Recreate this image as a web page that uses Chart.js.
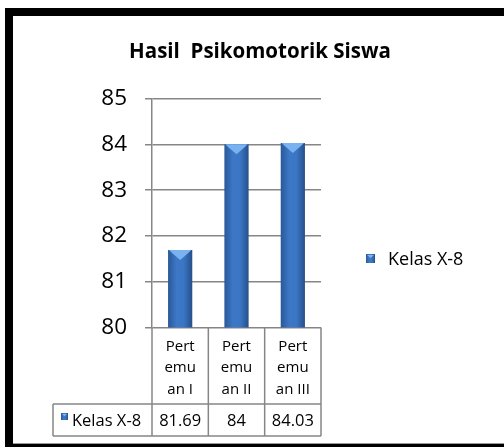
<!DOCTYPE html>
<html>
<head>
<meta charset="utf-8">
<script src="https://cdn.jsdelivr.net/npm/chart.js@4.4.0/dist/chart.umd.min.js"></script>
<style>
    html, body { margin: 0; padding: 0; background: #fff; overflow: hidden; }
    #wrap { position: absolute; left: 0; top: 0; width: 504px; height: 447px; }
</style>
</head>
<body>
<div id="wrap"><canvas id="psikomotorik-chart"></canvas></div>
<script>
const categories = [['Pert', 'emu', 'an I'], ['Pert', 'emu', 'an II'], ['Pert', 'emu', 'an III']];
const seriesName = 'Kelas X-8';
const values = [81.69, 84, 84.03];
const valueLabels = ['81.69', '84', '84.03'];
const yTicks = [80, 81, 82, 83, 84, 85];

const FONT = '"Open Sans"';
const LINE = '#868686';

function blueGradient(ctx, x0, x1) {
    const g = ctx.createLinearGradient(x0, 0, x1, 0);
    g.addColorStop(0, '#2a5898');
    g.addColorStop(0.35, '#3c78c6');
    g.addColorStop(0.65, '#3a76c4');
    g.addColorStop(1, '#264f8a');
    return g;
}

function barFill(context) {
    const chart = context.chart;
    const x = chart.scales.x;
    if (!x || context.dataIndex === undefined) return '#3a72bf';
    const half = x.width / categories.length * 0.43 / 2;
    const cx = x.getPixelForValue(context.dataIndex);
    if (!isFinite(cx) || !isFinite(half) || half <= 0) return '#3a72bf';
    return blueGradient(chart.ctx, cx - half, cx + half);
}

function drawSwatch(ctx, x, y, s) {
    ctx.fillStyle = blueGradient(ctx, x, x + s);
    ctx.fillRect(x, y, s, s);
    ctx.fillStyle = '#7fb4ec';
    ctx.beginPath();
    ctx.moveTo(x + 1, y + 1);
    ctx.lineTo(x + s - 1, y + 1);
    ctx.lineTo(x + s / 2, y + s * 0.45);
    ctx.closePath();
    ctx.fill();
}

// black frame round the chart (open on the right, thin at the bottom)
const framePlugin = {
    id: 'frame',
    beforeDraw(chart) {
        const ctx = chart.ctx;
        ctx.save();
        ctx.fillStyle = '#fff';
        ctx.fillRect(0, 0, chart.width, chart.height);
        ctx.fillStyle = '#000';
        ctx.fillRect(5, 8, 8, chart.height - 8);
        ctx.fillRect(5, 8, chart.width - 5, 8);
        ctx.fillRect(5, chart.height - 3, chart.width - 5, 3);
        ctx.fillStyle = '#9a9a9a';
        ctx.fillRect(13, chart.height - 4, chart.width - 13, 1);
        ctx.restore();
    }
};

// bar caps, data table under the axis and the legend on the right
const tablePlugin = {
    id: 'dataTable',
    afterDatasetsDraw(chart) {
        const ctx = chart.ctx;
        const meta = chart.getDatasetMeta(0);
        ctx.save();
        meta.data.forEach(function (bar) {
            const w = bar.width;
            ctx.fillStyle = '#79b2ee';
            ctx.beginPath();
            ctx.moveTo(bar.x - w / 2 + 1, bar.y);
            ctx.lineTo(bar.x + w / 2 - 1, bar.y);
            ctx.lineTo(bar.x + w / 2 - 4, bar.y + 3);
            ctx.lineTo(bar.x, bar.y + 10);
            ctx.lineTo(bar.x - w / 2 + 4, bar.y + 3);
            ctx.closePath();
            ctx.fill();
        });
        ctx.restore();
    },
    afterDraw(chart) {
        const ctx = chart.ctx;
        const x = chart.scales.x;
        const top = x.top;
        const bot = chart.height - 11;
        const mid = bot - 32;
        const left = 53;
        const step = x.width / categories.length;

        ctx.save();
        ctx.strokeStyle = LINE;
        ctx.lineWidth = 1.5;
        ctx.beginPath();
        for (let i = 0; i <= categories.length; i++) {
            const px = x.left + i * step;
            ctx.moveTo(px, top);
            ctx.lineTo(px, bot);
        }
        ctx.moveTo(left, mid);
        ctx.lineTo(x.right, mid);
        ctx.moveTo(left, bot);
        ctx.lineTo(x.right, bot);
        ctx.moveTo(left, mid);
        ctx.lineTo(left, bot);
        ctx.stroke();

        const rowY = (mid + bot) / 2;
        drawSwatch(ctx, 61, rowY - 7, 7);
        ctx.fillStyle = '#000';
        ctx.font = '16.5px ' + FONT;
        ctx.textBaseline = 'middle';
        ctx.textAlign = 'left';
        ctx.fillText(seriesName, 72, rowY + 1);
        ctx.textAlign = 'center';
        valueLabels.forEach(function (v, i) {
            ctx.fillText(v, x.getPixelForValue(i), rowY + 1);
        });

        drawSwatch(ctx, 366, 254, 9);
        ctx.fillStyle = '#000';
        ctx.font = '18px ' + FONT;
        ctx.textAlign = 'left';
        ctx.fillText(seriesName, 388, 260);
        ctx.restore();
    }
};

new Chart(document.getElementById('psikomotorik-chart'), {
    type: 'bar',
    data: {
        labels: categories,
        datasets: [{
            label: seriesName,
            data: values,
            backgroundColor: barFill,
            borderWidth: 0,
            barPercentage: 0.43,
            categoryPercentage: 1
        }]
    },
    options: {
        responsive: true,
        maintainAspectRatio: false,
        animation: false,
        layout: { padding: { left: 16, top: 16, right: 0, bottom: 11 } },
        plugins: {
            legend: { display: false },
            tooltip: { enabled: false },
            title: {
                display: true,
                text: 'Hasil  Psikomotorik Siswa',
                color: '#000',
                font: { family: FONT, size: 20.5, weight: 'bold', lineHeight: 1.2 },
                padding: { top: 23.7, bottom: 34.2 }
            }
        },
        scales: {
            x: {
                grid: { display: false, drawTicks: false },
                border: { display: false },
                ticks: {
                    color: '#000',
                    font: { family: FONT, size: 15, lineHeight: 1.45 },
                    padding: 8,
                    maxRotation: 0,
                    autoSkip: false
                },
                afterFit: function (s) { s.height = 108.5; }
            },
            y: {
                min: yTicks[0],
                max: yTicks[yTicks.length - 1],
                afterBuildTicks: function (s) { s.ticks = yTicks.map(function (v) { return { value: v }; }); },
                grid: { color: LINE, lineWidth: 1.5, tickLength: 7 },
                border: { display: true, color: LINE, width: 1.5 },
                ticks: { color: '#000', font: { family: FONT, size: 22.5 }, padding: 18 },
                afterFit: function (s) { s.width = 136; }
            },
            pad: {
                type: 'linear',
                position: 'right',
                grid: { display: false },
                border: { display: false },
                ticks: { display: false },
                afterFit: function (s) { s.width = 183; }
            }
        }
    },
    plugins: [framePlugin, tablePlugin]
});
</script>
</body>
</html>
